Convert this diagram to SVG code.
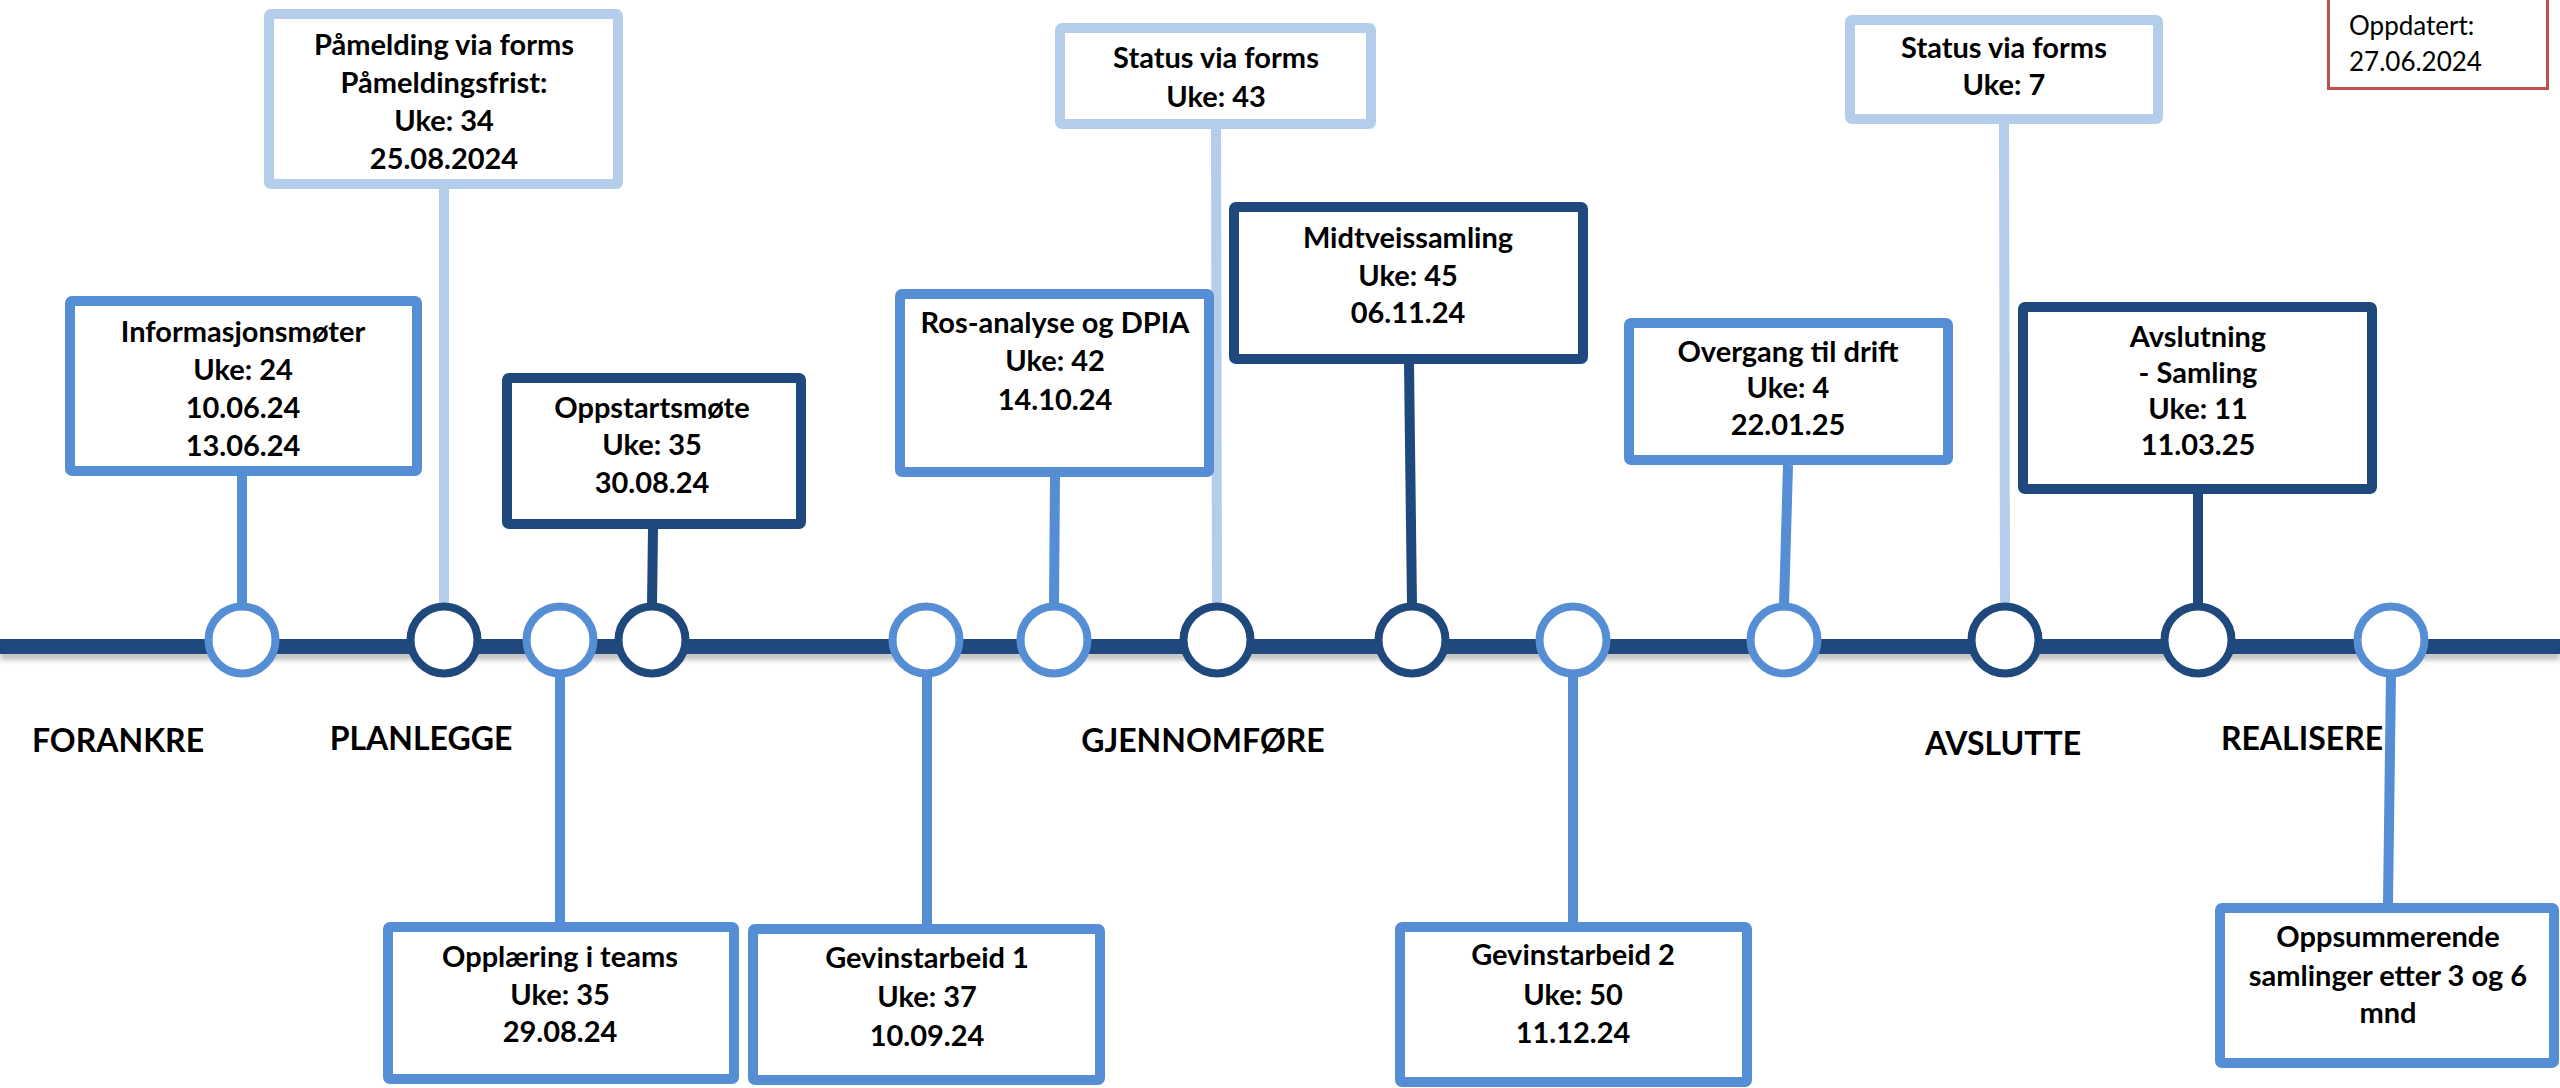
<svg xmlns="http://www.w3.org/2000/svg" width="2560" height="1088" viewBox="0 0 2560 1088">
  <defs>
    <style>
      .box { fill: #ffffff; stroke-width: 10; stroke-linejoin: round; }
      .dark { stroke: #1F497D; }
      .mid { stroke: #558ED5; }
      .light { stroke: #B4CDEB; }
      .link { stroke-width: 10; fill: none; }
      .dot { fill: #ffffff; stroke-width: 8; }
      .t { font-family: Lato, "Liberation Sans", sans-serif; font-weight: bold; font-size: 29px; fill: #000000; text-anchor: middle; }
      .phase { font-family: Lato, "Liberation Sans", sans-serif; font-weight: bold; font-size: 32px; fill: #000000; text-anchor: middle; }
      .note { font-family: Lato, "Liberation Sans", sans-serif; font-size: 26px; fill: #000000; }
    </style>
    <filter id="soft" x="-5%" y="-100%" width="110%" height="300%">
      <feGaussianBlur stdDeviation="2.5"/>
    </filter>
  </defs>

  <rect width="2560" height="1088" fill="#ffffff"/>

  <!-- connectors from event boxes to the timeline markers -->
  <g id="connectors">
    <line class="link mid" x1="242" y1="476" x2="242" y2="606"/>
    <line class="link light" x1="444" y1="189" x2="444" y2="606"/>
    <line class="link dark" x1="653" y1="529" x2="652" y2="606"/>
    <line class="link mid" x1="560" y1="674" x2="560" y2="922"/>
    <line class="link mid" x1="927" y1="674" x2="927" y2="924"/>
    <line class="link mid" x1="1055" y1="477" x2="1054" y2="606"/>
    <line class="link light" x1="1216" y1="129" x2="1217" y2="606"/>
    <line class="link dark" x1="1409" y1="364" x2="1412" y2="606"/>
    <line class="link mid" x1="1573" y1="674" x2="1573" y2="922"/>
    <line class="link mid" x1="1788" y1="465" x2="1784" y2="606"/>
    <line class="link light" x1="2004" y1="124" x2="2005" y2="606"/>
    <line class="link dark" x1="2198" y1="494" x2="2198" y2="606"/>
    <line class="link mid" x1="2391" y1="674" x2="2388" y2="903"/>
  </g>

  <!-- timeline bar with its soft shadow -->
  <g id="timeline">
    <rect x="0" y="651" width="2560" height="9" fill="#9a9a9a" opacity="0.6" filter="url(#soft)"/>
    <rect x="0" y="639" width="2560" height="15" fill="#1F497D"/>
  </g>

  <!-- milestone markers -->
  <g id="markers">
    <circle id="m1" class="dot mid" cx="242" cy="640" r="33.5"/>
    <circle id="m2" class="dot dark" cx="444" cy="640" r="33.5"/>
    <circle id="m3" class="dot mid" cx="560" cy="640" r="33.5"/>
    <circle id="m4" class="dot dark" cx="652" cy="640" r="33.5"/>
    <circle id="m5" class="dot mid" cx="926" cy="640" r="33.5"/>
    <circle id="m6" class="dot mid" cx="1054" cy="640" r="33.5"/>
    <circle id="m7" class="dot dark" cx="1217" cy="640" r="33.5"/>
    <circle id="m8" class="dot dark" cx="1412" cy="640" r="33.5"/>
    <circle id="m9" class="dot mid" cx="1573" cy="640" r="33.5"/>
    <circle id="m10" class="dot mid" cx="1784" cy="640" r="33.5"/>
    <circle id="m11" class="dot dark" cx="2005" cy="640" r="33.5"/>
    <circle id="m12" class="dot dark" cx="2198" cy="640" r="33.5"/>
    <circle id="m13" class="dot mid" cx="2391" cy="640" r="33.5"/>
  </g>

  <!-- phase labels -->
  <g id="phases">
    <text class="phase" x="118" y="752">FORANKRE</text>
    <text class="phase" x="421" y="750">PLANLEGGE</text>
    <text class="phase" x="1203" y="752">GJENNOMFØRE</text>
    <text class="phase" x="2003" y="755">AVSLUTTE</text>
    <text class="phase" x="2302" y="750">REALISERE</text>
  </g>

  <!-- events above the timeline -->
  <g id="informasjonsmoter">
    <rect class="box mid" x="70" y="301" width="347" height="170" rx="2"/>
    <text class="t" x="243" y="342">Informasjonsmøter</text>
    <text class="t" x="243" y="380">Uke: 24</text>
    <text class="t" x="243" y="418">10.06.24</text>
    <text class="t" x="243" y="456">13.06.24</text>
  </g>

  <g id="pamelding">
    <rect class="box light" x="269" y="14" width="349" height="170" rx="2"/>
    <text class="t" x="444" y="55">Påmelding via forms</text>
    <text class="t" x="444" y="93">Påmeldingsfrist:</text>
    <text class="t" x="444" y="131">Uke: 34</text>
    <text class="t" x="444" y="169">25.08.2024</text>
  </g>

  <g id="oppstartsmote">
    <rect class="box dark" x="507" y="378" width="294" height="146" rx="2"/>
    <text class="t" x="652" y="418">Oppstartsmøte</text>
    <text class="t" x="652" y="455">Uke: 35</text>
    <text class="t" x="652" y="493">30.08.24</text>
  </g>

  <g id="ros-analyse">
    <rect class="box mid" x="900" y="294" width="309" height="178" rx="2"/>
    <text class="t" x="1055" y="333">Ros-analyse og DPIA</text>
    <text class="t" x="1055" y="371">Uke: 42</text>
    <text class="t" x="1055" y="410">14.10.24</text>
  </g>

  <g id="status-43">
    <rect class="box light" x="1060" y="28" width="311" height="96" rx="2"/>
    <text class="t" x="1216" y="68">Status via forms</text>
    <text class="t" x="1216" y="107">Uke: 43</text>
  </g>

  <g id="midtveissamling">
    <rect class="box dark" x="1234" y="207" width="349" height="152" rx="2"/>
    <text class="t" x="1408" y="248">Midtveissamling</text>
    <text class="t" x="1408" y="286">Uke: 45</text>
    <text class="t" x="1408" y="323">06.11.24</text>
  </g>

  <g id="overgang">
    <rect class="box mid" x="1629" y="323" width="319" height="137" rx="2"/>
    <text class="t" x="1788" y="362">Overgang til drift</text>
    <text class="t" x="1788" y="398">Uke: 4</text>
    <text class="t" x="1788" y="435">22.01.25</text>
  </g>

  <g id="status-7">
    <rect class="box light" x="1850" y="20" width="308" height="99" rx="2"/>
    <text class="t" x="2004" y="58">Status via forms</text>
    <text class="t" x="2004" y="95">Uke: 7</text>
  </g>

  <g id="avslutning">
    <rect class="box dark" x="2023" y="307" width="349" height="182" rx="2"/>
    <text class="t" x="2198" y="347">Avslutning</text>
    <text class="t" x="2198" y="383">- Samling</text>
    <text class="t" x="2198" y="419">Uke: 11</text>
    <text class="t" x="2198" y="455">11.03.25</text>
  </g>

  <g id="oppdatert">
    <rect x="2328.5" y="-2" width="219" height="90.5" fill="#ffffff" stroke="#C0504D" stroke-width="3"/>
    <text class="note" x="2349" y="35">Oppdatert:</text>
    <text class="note" x="2349" y="71">27.06.2024</text>
  </g>

  <!-- events below the timeline -->
  <g id="opplaering">
    <rect class="box mid" x="388" y="927" width="346" height="152" rx="2"/>
    <text class="t" x="560" y="967">Opplæring i teams</text>
    <text class="t" x="560" y="1005">Uke: 35</text>
    <text class="t" x="560" y="1042">29.08.24</text>
  </g>

  <g id="gevinstarbeid-1">
    <rect class="box mid" x="753" y="929" width="347" height="151" rx="2"/>
    <text class="t" x="927" y="968">Gevinstarbeid 1</text>
    <text class="t" x="927" y="1007">Uke: 37</text>
    <text class="t" x="927" y="1046">10.09.24</text>
  </g>

  <g id="gevinstarbeid-2">
    <rect class="box mid" x="1400" y="927" width="347" height="155" rx="2"/>
    <text class="t" x="1573" y="965">Gevinstarbeid 2</text>
    <text class="t" x="1573" y="1005">Uke: 50</text>
    <text class="t" x="1573" y="1043">11.12.24</text>
  </g>

  <g id="oppsummerende">
    <rect class="box mid" x="2220" y="908" width="334" height="155" rx="2"/>
    <text class="t" x="2388" y="947">Oppsummerende</text>
    <text class="t" x="2388" y="986">samlinger etter 3 og 6</text>
    <text class="t" x="2388" y="1023">mnd</text>
  </g>
</svg>
